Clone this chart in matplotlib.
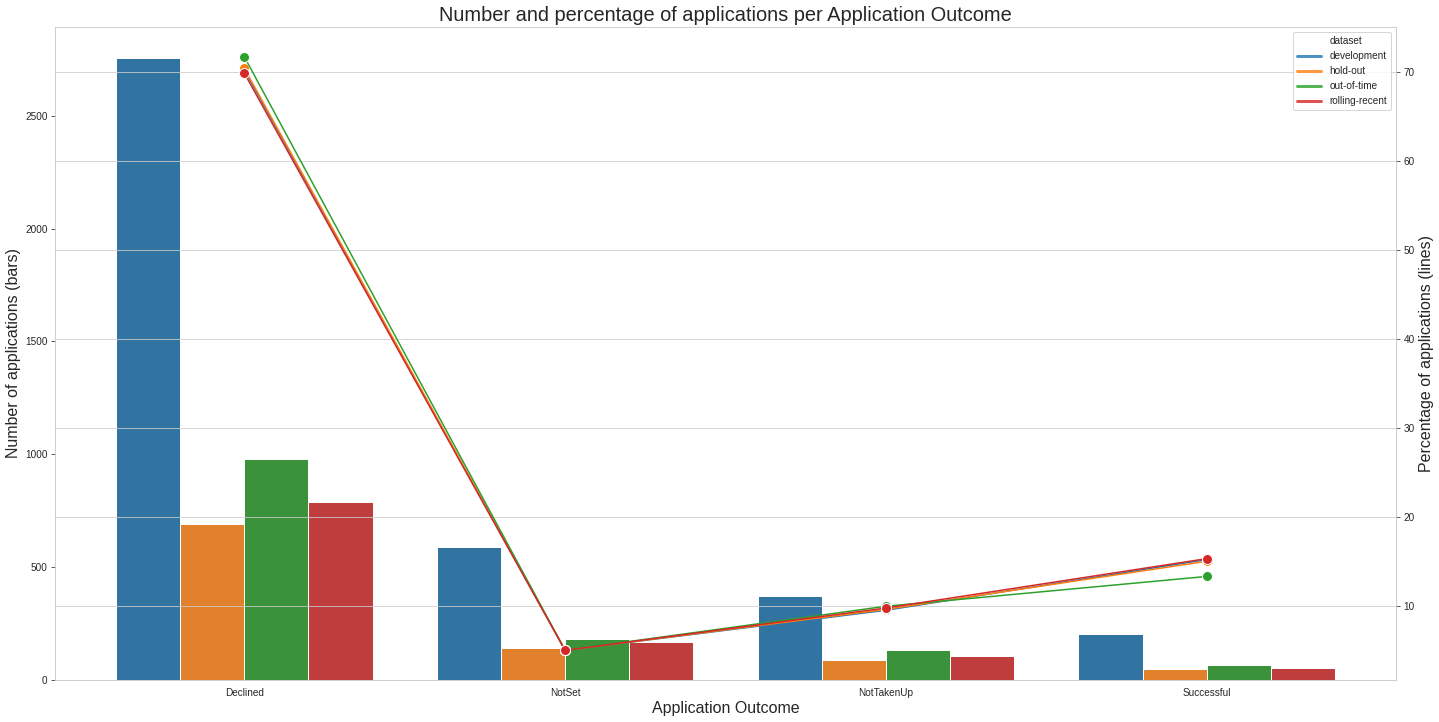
import numpy as np
import matplotlib
matplotlib.use("Agg")
import matplotlib.pyplot as plt
import seaborn as sns

# data
outcomes = ["Declined", "NotSet", "NotTakenUp", "Successful"]
datasets = ["development", "hold-out", "out-of-time", "rolling-recent"]

counts_development = [2755, 590, 372, 204]
counts_hold_out = [690, 143, 89, 49]
counts_out_of_time = [980, 182, 133, 66]
counts_rolling_recent = [789, 170, 106, 53]

pct_development = [70.2, 5.0, 9.5, 15.2]
pct_hold_out = [70.4, 5.0, 9.6, 15.0]
pct_out_of_time = [71.7, 5.0, 9.95, 13.3]
pct_rolling_recent = [69.85, 5.0, 9.75, 15.3]

counts = [counts_development, counts_hold_out, counts_out_of_time, counts_rolling_recent]
pcts = [pct_development, pct_hold_out, pct_out_of_time, pct_rolling_recent]

bar_colors = ["#3274a1", "#e1812c", "#3a923a", "#c03d3e"]
line_colors = ["#1f77b4", "#ff7f0e", "#2ca02c", "#d62728"]

sns.set_style("whitegrid")
plt.rcParams["font.family"] = ["Liberation Sans", "DejaVu Sans"]
plt.rcParams["axes.edgecolor"] = "#cccccc"

fig, ax1 = plt.subplots(figsize=(1439 / 72, 722 / 72), dpi=72)
fig.subplots_adjust(left=55 / 1439, right=1396 / 1439, top=1 - 27 / 722, bottom=1 - 680 / 722)

x = np.arange(len(outcomes))
n = len(datasets)
width = 0.8 / n
for i, name in enumerate(datasets):
    offs = x - 0.4 + width * (i + 0.5)
    ax1.bar(offs, counts[i], width=width, color=bar_colors[i], edgecolor="white", linewidth=1, label=name)

ax1.set_xticks(x)
ax1.set_xticklabels(outcomes)
ax1.grid(False)
ax1.set_xlabel("Application Outcome", fontsize=16)
ax1.set_ylabel("Number of applications (bars)", fontsize=16)
ax1.tick_params(axis="both", labelsize=10, length=4, color="#333333", left=True, bottom=False)

ax2 = ax1.twinx()
for i, name in enumerate(datasets):
    ax2.plot(x, pcts[i], color=line_colors[i], marker="o", markersize=10,
             markeredgecolor="white", markeredgewidth=1, linewidth=1.5, label=name)
ax2.grid(True, axis="y", color="#cccccc")
ax2.grid(False, axis="x")
ax2.set_ylabel("Percentage of applications (lines)", fontsize=16)
ax2.tick_params(axis="y", labelsize=10, length=4, color="#333333", right=True)

# seaborn-style legend: the title sits as a blank entry
handles = [plt.Line2D([], [], linestyle="none")]
handles += [plt.Line2D([], [], color=c, linewidth=3, alpha=0.8) for c in line_colors]
leg = ax2.legend(handles, ["dataset"] + datasets, loc="upper right", fontsize=10,
                 frameon=True, handlelength=2.4)

ax1.set_title("Number and percentage of applications per Application Outcome", fontsize=20)

plt.savefig("out.png", dpi=72)
plt.close()
